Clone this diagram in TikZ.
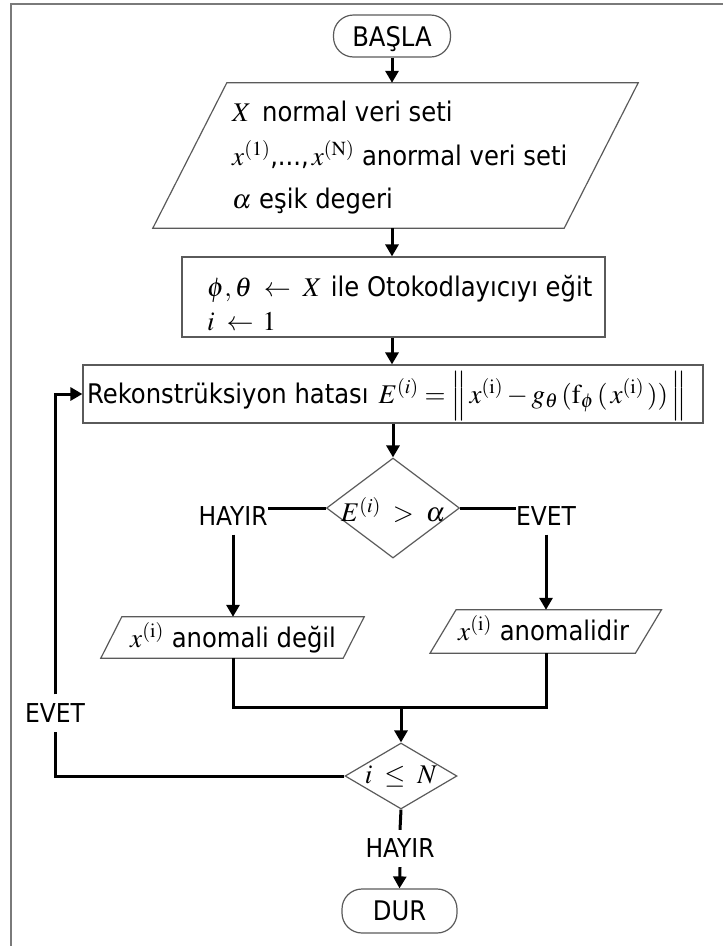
\documentclass[tikz,border=0pt]{standalone}
\usepackage{mathptmx}
\usepackage{fontspec}
\setmainfont{DejaVu Sans Condensed}
\usetikzlibrary{shapes.geometric,arrows.meta}

\definecolor{edgegray}{HTML}{5A5A5A}
\definecolor{framegray}{HTML}{7A7A7A}

\tikzset{
  every node/.style={font=\fontsize{27}{32}\selectfont},
  outline/.style={draw=edgegray, line width=1.2pt},
  term/.style={outline, rounded corners=20pt, inner sep=0pt, text depth=0pt},
  procbox/.style={outline, inner sep=0pt},
  iobox/.style={inner sep=0pt},
  decision/.style={diamond, outline, inner sep=0pt},
  flowtext/.style={anchor=base west, inner sep=0pt},
  tag/.style={inner xsep=0pt, inner ysep=9pt, font=\fontsize{26}{31}\selectfont},
  link/.style={line width=3pt, black},
  arr/.style={link, -{Triangle[length=12pt, width=13pt]}},
}

% slanted input/output outline around an invisible node
\newcommand\slantio[2]{%
  \draw[outline] ([xshift=#2]#1.north west) -- ([xshift=#2]#1.north east)
    -- ([xshift=-#2]#1.south east) -- ([xshift=-#2]#1.south west) -- cycle;}

\begin{document}
\begin{tikzpicture}[x=1pt, y=-1pt]
\useasboundingbox (0,0) rectangle (723,946);

% outer frame
\draw[framegray, line width=1.6pt] (11,960) -- (11,4) -- (740,4);

% terminals
\node[term, minimum width=117pt, minimum height=42pt] (start) at (392,36) {BAŞLA};
\node[term, minimum width=115pt, minimum height=44pt] (stop) at (399.5,911) {DUR};

% input data
\node[iobox, minimum width=411pt, minimum height=145pt] (inp) at (395.5,155.5) {};
\slantio{inp}{37pt}
\node[flowtext] (inpa) at (232,121) {$X$\hspace{11pt}normal veri seti};
\node[flowtext] (inpb) at (232,165) {$x^{\mathrm{(1)}}$,...,$\,x^{\mathrm{(N)}}$ anormal veri seti};
\node[flowtext] (inpc) at (232,208) {$\alpha$ eşik degeri};

% training step
\node[procbox, minimum width=423pt, minimum height=80pt] (train) at (393.5,297) {};
\node[flowtext] (traina) at (207,296) {$\phi,\theta\;\leftarrow\;X$\hspace{9pt}ile Otokodlayıcıyı eğit};
\node[flowtext] (trainb) at (207,330) {$i\;\leftarrow\,1$};

% reconstruction error
\node[procbox, minimum width=620pt, minimum height=58pt] (recon) at (393,394) {};
\node[flowtext] (recontext) at (87,403)
  {Rekonstrüksiyon hatası\hspace{10pt}$E^{(i)}=\Bigl\|\,x^{\mathrm{(i)}} - g_{\theta}\,(\mathrm{f}_{\phi}\,(\,x^{\mathrm{(i)}}\,))\,\Bigr\|$};

% first decision
\node[decision, minimum width=133pt, minimum height=100pt] (cmp) at (393,508) {};
\node[inner sep=0pt] (cmptext) at (393,510) {$E^{(i)}\;>\;\alpha$};
\node[tag] (no) at (233,516) {HAYIR};
\node[tag] (yes) at (546,516) {EVET};

% outcomes
\node[iobox, minimum width=242pt, minimum height=41pt] (pn) at (232.5,637.5) {};
\slantio{pn}{10.5pt}
\node[flowtext] (pntext) at (130,647) {$x^{\mathrm{(i)}}$\hspace{8pt}anomali değil};
\node[iobox, minimum width=205pt, minimum height=43pt] (pa) at (545.75,631.5) {};
\slantio{pa}{13pt}
\node[flowtext] (patext) at (458,640) {$x^{\mathrm{(i)}}$\hspace{8pt}anomalidir};

% loop test
\node[decision, minimum width=112pt, minimum height=66pt] (chk) at (401,776) {};
\node[inner sep=0pt] (chktext) at (401,777) {$i\;\le\;N$};
\node[tag] (yes2) at (55,713) {EVET};
\node[tag] (no2) at (400,848.5) {HAYIR};
\coordinate (m) at (401,707);

% connectors
\draw[arr] (start.south) -- (start.south |- inp.north);
\draw[arr] (inp.south -| start.south) -- (start.south |- train.north);
\draw[arr] (train.south -| start.south) -- (start.south |- recon.north);
\draw[arr] (recon.south -| cmp.north) -- (cmp.north);
\draw[link] (cmp.west) -- (cmp.west -| no.east);
\draw[link] (cmp.east) -- (cmp.east -| yes.west);
\draw[arr] (no.south) -- (no.south |- pn.north);
\draw[arr] (yes.south) -- (yes.south |- pa.north);
\draw[link] (no.south |- pn.south) -- (no.south |- m) -- (yes.south |- m) -- (yes.south |- pa.south);
\draw[arr] (m) -- (chk.north);
\draw[link] (chk.west) -| (yes2.south);
\draw[arr] (yes2.north) |- (recon.west);
\draw[link] (chk.south) -- (no2.north);
\draw[arr] (no2.south) -- (stop.north);
\end{tikzpicture}
\end{document}
